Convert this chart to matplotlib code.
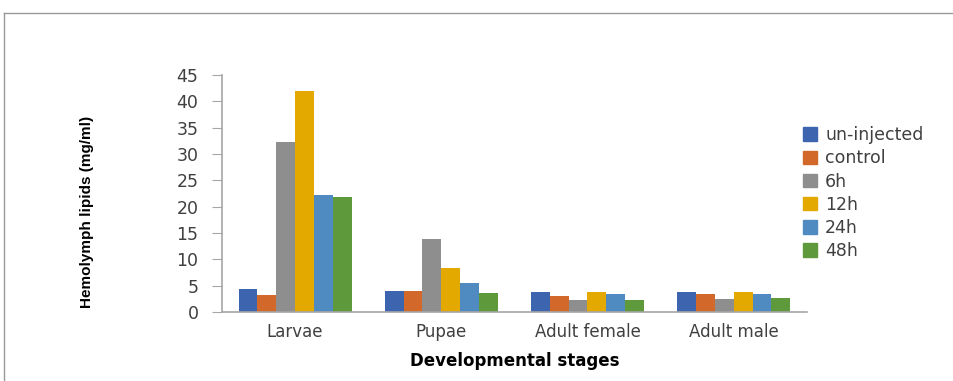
import numpy as np
import matplotlib
matplotlib.use("Agg")
import matplotlib.pyplot as plt
from matplotlib.lines import Line2D
from matplotlib.patches import Patch

# hemolymph lipids by stage and treatment
stages = ["Larvae", "Pupae", "Adult female", "Adult male"]
series = ["un-injected", "control", "6h", "12h", "24h", "48h"]
uninjected = [4.3, 4.0, 3.8, 3.9]
control = [3.2, 4.0, 3.0, 3.4]
h6 = [32.3, 13.8, 2.2, 2.4]
h12 = [41.9, 8.4, 3.8, 3.8]
h24 = [22.2, 5.6, 3.5, 3.5]
h48 = [21.9, 3.6, 2.2, 2.6]
values = [uninjected, control, h6, h12, h24, h48]
colors = ["#3C64AF", "#D2692A", "#8E8E8E", "#E3A900", "#4F8BC0", "#5E9A3C"]

fig = plt.figure(figsize=(9.54, 3.81), dpi=100)
ax = fig.add_axes([0.2327, 0.181, 0.613, 0.622])

x = np.arange(len(stages))
w = 0.129
for i, (vals, c) in enumerate(zip(values, colors)):
    ax.bar(x + (i - 2.5) * w, vals, w, color=c, label=series[i])

ax.set_xlim(-0.5, len(stages) - 0.5)
ax.set_ylim(0, 45)
ax.set_yticks(np.arange(0, 46, 5))
ax.set_xticks(x)
ax.set_xticklabels(stages)
for s in ["top", "right"]:
    ax.spines[s].set_visible(False)
for s in ["left", "bottom"]:
    ax.spines[s].set_color("#A6A6A6")
    ax.spines[s].set_linewidth(1.2)
ax.tick_params(axis="y", length=7, color="#A6A6A6", pad=10, labelsize=12.5, labelcolor="#404040")
ax.tick_params(axis="x", length=0, pad=8, labelsize=12, labelcolor="#404040")

ax.set_xlabel("Developmental stages", fontsize=12, fontweight="bold", labelpad=8)
fig.text(0.091, 0.445, "Hemolymph lipids (mg/ml)", rotation=90, fontsize=11,
         fontweight="bold", ha="center", va="center",
         family=["Liberation Sans", "DejaVu Sans"])

handles = [Patch(color=c) for c in colors]
fig.legend(handles, series, loc="upper left", bbox_to_anchor=(0.842, 0.669),
           frameon=False, fontsize=12.5, handlelength=0.8, handleheight=0.8,
           handletextpad=0.46, labelspacing=0.3, borderpad=0, borderaxespad=0,
           labelcolor="#404040")

# outer frame: top and left edges only
fig.add_artist(Line2D([4 / 954, 1], [1 - 13 / 381, 1 - 13 / 381], color="#999999", lw=1))
fig.add_artist(Line2D([4 / 954, 4 / 954], [0, 1 - 13 / 381], color="#999999", lw=1))

fig.savefig("out.png", dpi=100)
